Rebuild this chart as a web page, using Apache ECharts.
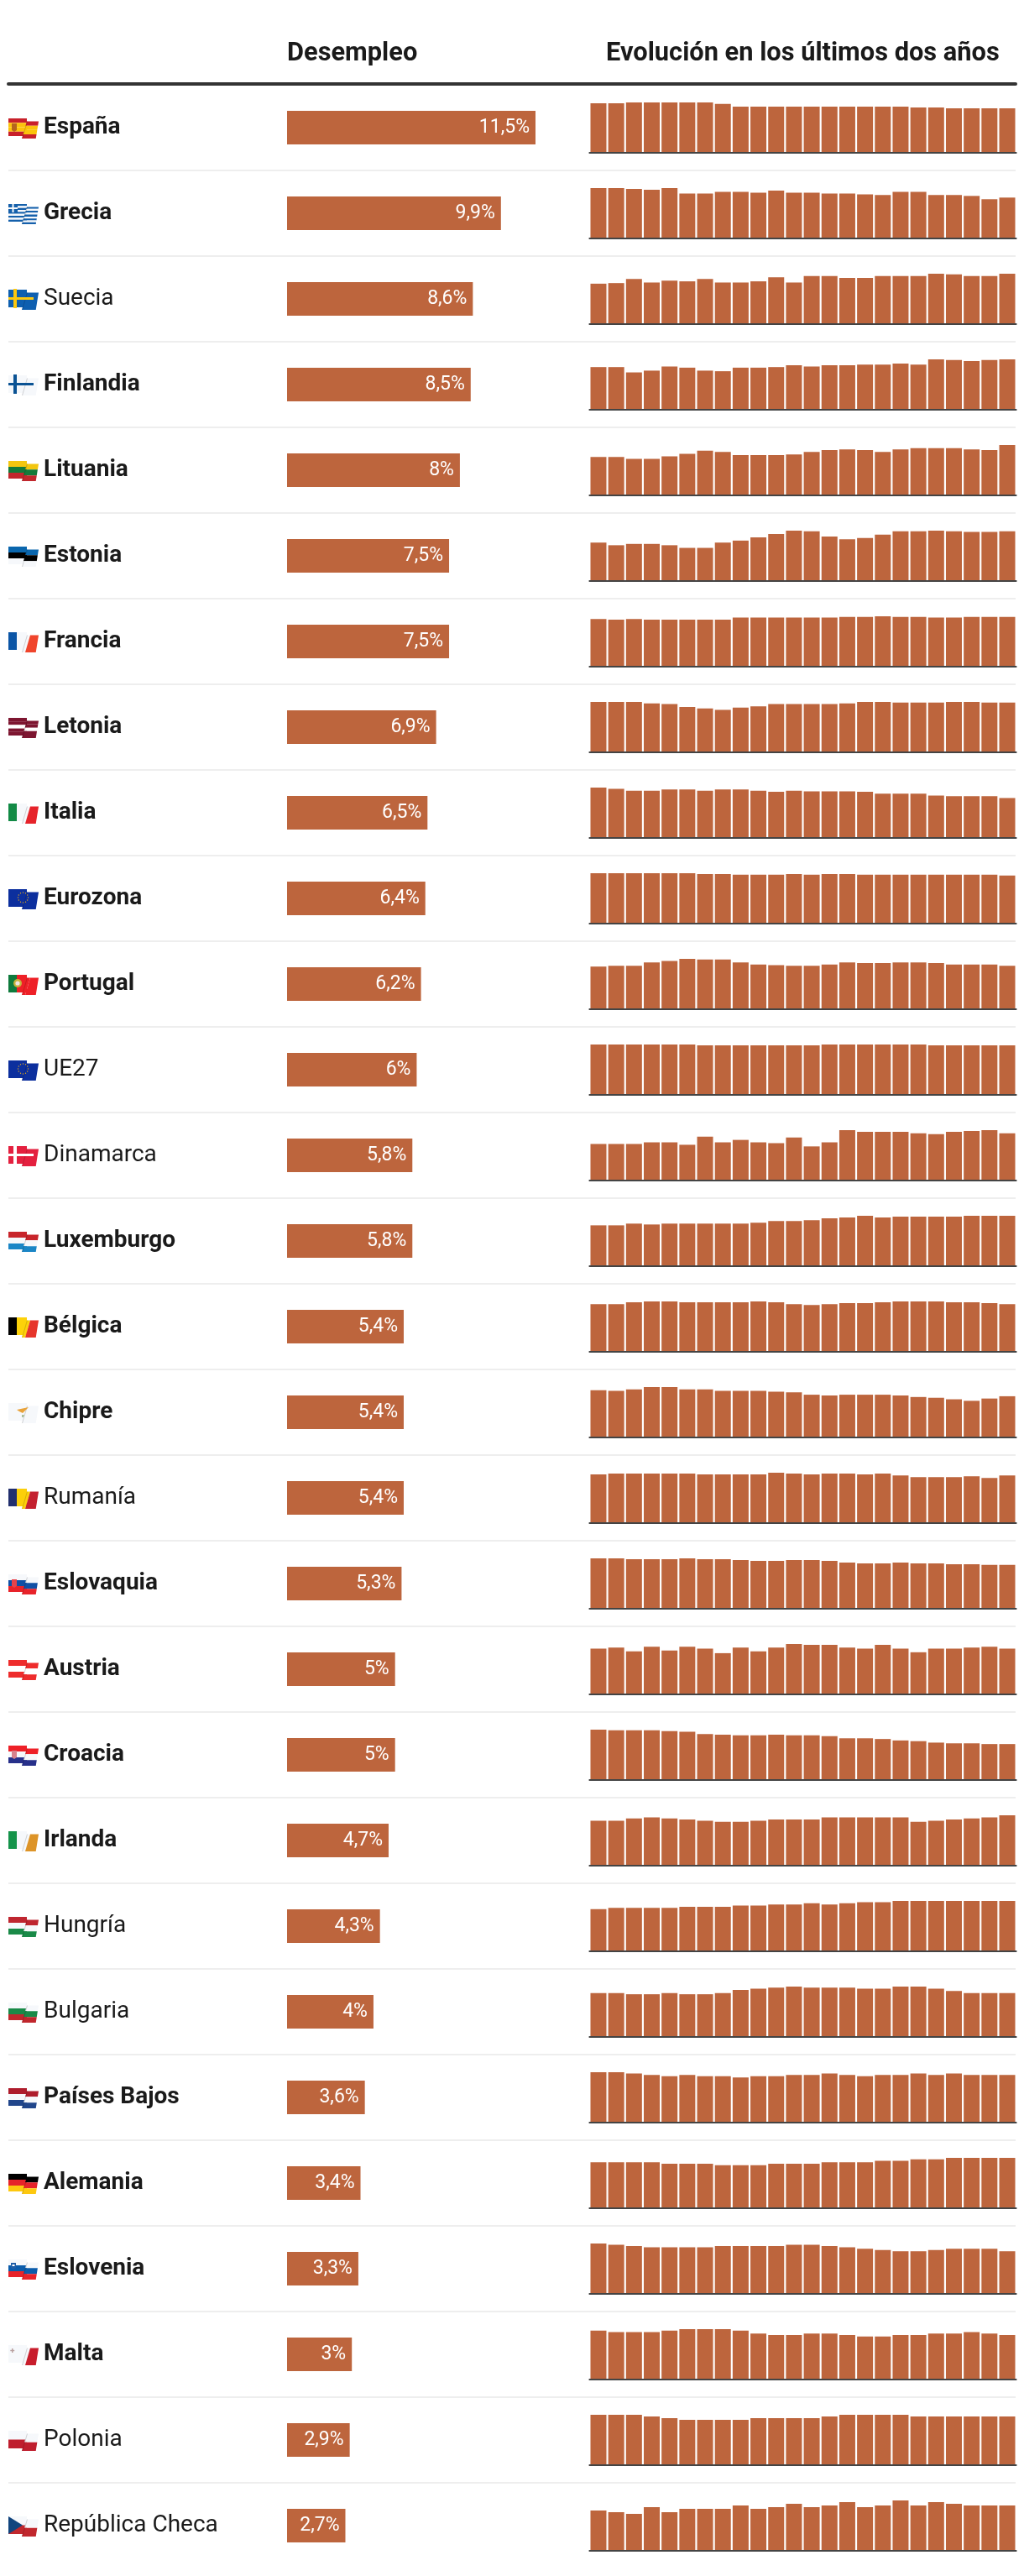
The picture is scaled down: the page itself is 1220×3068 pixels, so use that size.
<!DOCTYPE html>
<html lang="es">
<head>
<meta charset="utf-8">
<title>Desempleo</title>
<script src="https://cdn.jsdelivr.net/npm/echarts@6/dist/echarts.min.js"></script>
<style>
html, body { margin: 0; padding: 0; background: #fff; }
#chart { width: 1220px; height: 3068px; }
</style>
</head>
<body>
<div id="chart"></div>
<script>
var countries = ['España', 'Grecia', 'Suecia', 'Finlandia', 'Lituania', 'Estonia', 'Francia', 'Letonia', 'Italia', 'Eurozona',
	'Portugal', 'UE27', 'Dinamarca', 'Luxemburgo', 'Bélgica', 'Chipre', 'Rumanía', 'Eslovaquia', 'Austria', 'Croacia',
	'Irlanda', 'Hungría', 'Bulgaria', 'Países Bajos', 'Alemania', 'Eslovenia', 'Malta', 'Polonia', 'República Checa'];

var plainNames = ['Suecia', 'UE27', 'Dinamarca', 'Rumanía', 'Hungría', 'Bulgaria', 'Polonia', 'República Checa'];

var unemployment = [11.5, 9.9, 8.6, 8.5, 8, 7.5, 7.5, 6.9, 6.5, 6.4, 6.2, 6, 5.8, 5.8, 5.4, 5.4, 5.4, 5.3, 5, 5, 4.7, 4.3, 4, 3.6, 3.4, 3.3, 3, 2.9, 2.7];

var espana = [12.8, 12.8, 13.0, 13.0, 13.0, 13.0, 13.0, 12.6, 11.9, 11.9, 11.9, 11.9, 11.9, 11.9, 11.9, 11.9, 11.9, 11.9, 11.7, 11.7, 11.5, 11.5, 11.5, 11.5];
var grecia = [12.2, 12.2, 12.0, 11.8, 12.2, 10.9, 10.9, 11.3, 11.3, 11.1, 11.6, 11.1, 11.1, 10.9, 10.9, 10.7, 10.5, 11.3, 11.3, 10.5, 10.5, 10.3, 9.5, 9.9];
var suecia = [6.9, 7.0, 7.7, 7.1, 7.4, 7.3, 7.7, 7.1, 7.1, 7.3, 8.0, 7.1, 8.2, 8.2, 7.9, 7.9, 8.2, 8.2, 8.2, 8.6, 8.5, 8.2, 8.2, 8.6];
var finlandia = [7.2, 7.2, 6.3, 6.6, 7.3, 7.1, 6.6, 6.5, 7.1, 7.1, 7.2, 7.5, 7.3, 7.5, 7.5, 7.6, 7.6, 7.8, 7.6, 8.5, 8.4, 8.2, 8.4, 8.5];
var lituania = [6.1, 6.1, 5.8, 5.8, 6.2, 6.6, 7.1, 6.9, 6.4, 6.4, 6.4, 6.5, 6.9, 7.2, 7.3, 7.2, 6.9, 7.3, 7.5, 7.5, 7.5, 7.3, 7.2, 8.0];
var estonia = [5.8, 5.4, 5.6, 5.6, 5.4, 5.0, 5.0, 5.8, 6.1, 6.6, 7.1, 7.6, 7.5, 6.7, 6.3, 6.5, 7.0, 7.5, 7.5, 7.6, 7.5, 7.4, 7.4, 7.5];
var francia = [7.2, 7.1, 7.2, 7.1, 7.1, 7.1, 7.1, 7.1, 7.4, 7.4, 7.4, 7.4, 7.4, 7.4, 7.5, 7.5, 7.6, 7.5, 7.5, 7.4, 7.4, 7.5, 7.5, 7.5];
var letonia = [7.0, 7.0, 7.0, 6.8, 6.7, 6.3, 6.1, 5.9, 6.2, 6.4, 6.7, 6.7, 6.7, 6.7, 6.8, 7.0, 7.0, 6.9, 6.9, 6.9, 7.0, 7.0, 6.9, 6.9];
var italia = [8.2, 8.0, 7.7, 7.7, 7.9, 7.9, 7.7, 7.9, 7.9, 7.7, 7.5, 7.7, 7.6, 7.6, 7.6, 7.5, 7.2, 7.2, 7.2, 6.9, 6.8, 6.8, 6.8, 6.5];
var eurozona = [6.7, 6.7, 6.7, 6.7, 6.7, 6.7, 6.6, 6.6, 6.5, 6.5, 6.5, 6.6, 6.5, 6.6, 6.6, 6.5, 6.5, 6.5, 6.5, 6.5, 6.5, 6.5, 6.5, 6.4];
var portugal = [6.1, 6.2, 6.2, 6.7, 6.9, 7.2, 7.1, 7.1, 6.7, 6.4, 6.3, 6.2, 6.2, 6.4, 6.7, 6.6, 6.6, 6.7, 6.7, 6.6, 6.4, 6.4, 6.4, 6.2];
var ue27 = [6.1, 6.1, 6.1, 6.1, 6.1, 6.1, 6.0, 6.0, 6.0, 6.0, 6.0, 6.0, 6.0, 6.1, 6.1, 6.1, 6.1, 6.1, 6.1, 6.0, 6.0, 6.0, 6.0, 6.0];
var dinamarca = [4.5, 4.5, 4.5, 4.7, 4.7, 4.4, 5.4, 4.7, 5.0, 4.7, 4.6, 5.3, 4.2, 4.7, 6.2, 6.0, 6.0, 6.0, 5.8, 5.7, 6.0, 6.1, 6.2, 5.8];
var luxemburgo = [4.7, 4.7, 4.9, 4.8, 4.9, 4.9, 4.9, 4.9, 4.9, 5.0, 5.2, 5.2, 5.3, 5.5, 5.6, 5.8, 5.6, 5.7, 5.7, 5.7, 5.7, 5.8, 5.8, 5.8];
var belgica = [5.4, 5.4, 5.6, 5.7, 5.7, 5.6, 5.6, 5.6, 5.6, 5.7, 5.6, 5.4, 5.3, 5.4, 5.5, 5.5, 5.6, 5.7, 5.7, 5.7, 5.6, 5.6, 5.5, 5.4];
var chipre = [6.2, 6.1, 6.3, 6.6, 6.6, 6.3, 6.3, 6.1, 6.1, 6.1, 6.0, 5.9, 5.6, 5.5, 5.6, 5.6, 5.6, 5.5, 5.3, 5.2, 5.0, 4.8, 5.1, 5.4];
var rumania = [5.5, 5.6, 5.6, 5.6, 5.6, 5.6, 5.5, 5.5, 5.5, 5.5, 5.7, 5.6, 5.5, 5.6, 5.6, 5.5, 5.6, 5.4, 5.2, 5.2, 5.2, 5.3, 5.1, 5.4];
var eslovaquia = [6.1, 6.1, 6.0, 6.0, 6.0, 6.1, 6.0, 6.0, 5.9, 5.8, 5.8, 5.9, 5.9, 5.8, 5.6, 5.5, 5.5, 5.6, 5.5, 5.5, 5.4, 5.4, 5.3, 5.3];
var austria = [5.0, 5.1, 4.7, 5.2, 4.8, 5.2, 5.0, 4.5, 5.1, 4.7, 5.1, 5.5, 5.4, 5.4, 5.1, 5.0, 5.4, 5.0, 4.6, 5.0, 5.0, 5.1, 5.2, 5.0];
var croacia = [7.0, 6.9, 6.9, 6.9, 6.8, 6.7, 6.4, 6.3, 6.2, 6.2, 6.3, 6.2, 6.2, 6.1, 5.8, 5.8, 5.7, 5.5, 5.4, 5.2, 5.1, 5.1, 5.0, 5.0];
var irlanda = [4.2, 4.2, 4.4, 4.5, 4.4, 4.3, 4.2, 4.1, 4.1, 4.2, 4.3, 4.3, 4.3, 4.5, 4.5, 4.5, 4.5, 4.5, 4.1, 4.2, 4.3, 4.4, 4.5, 4.7];
var hungria = [3.6, 3.7, 3.7, 3.7, 3.7, 3.8, 3.8, 3.8, 3.9, 3.9, 4.0, 4.0, 4.1, 4.0, 4.1, 4.2, 4.2, 4.3, 4.3, 4.3, 4.3, 4.3, 4.3, 4.3];
var bulgaria = [4.0, 4.0, 3.9, 3.9, 4.0, 3.9, 3.9, 4.0, 4.3, 4.4, 4.5, 4.6, 4.5, 4.5, 4.5, 4.4, 4.4, 4.6, 4.6, 4.4, 4.2, 4.0, 4.0, 4.0];
var paisesBajos = [3.8, 3.8, 3.7, 3.6, 3.5, 3.6, 3.5, 3.5, 3.4, 3.5, 3.5, 3.6, 3.6, 3.7, 3.6, 3.5, 3.6, 3.6, 3.7, 3.6, 3.7, 3.6, 3.6, 3.6];
var alemania = [3.1, 3.1, 3.1, 3.1, 3.0, 3.0, 3.0, 2.9, 2.9, 2.9, 3.0, 3.0, 3.0, 3.1, 3.1, 3.1, 3.2, 3.2, 3.3, 3.3, 3.4, 3.4, 3.4, 3.4];
var eslovenia = [3.9, 3.8, 3.7, 3.6, 3.6, 3.6, 3.6, 3.7, 3.7, 3.7, 3.7, 3.8, 3.8, 3.7, 3.6, 3.5, 3.4, 3.3, 3.3, 3.4, 3.5, 3.5, 3.5, 3.3];
var malta = [3.3, 3.2, 3.2, 3.2, 3.3, 3.4, 3.4, 3.4, 3.3, 3.1, 3.0, 3.0, 3.1, 3.1, 3.0, 2.9, 2.9, 3.0, 3.0, 3.1, 3.1, 3.2, 3.1, 3.0];
var polonia = [3.0, 3.0, 3.0, 2.9, 2.8, 2.7, 2.7, 2.7, 2.7, 2.8, 2.8, 2.8, 2.8, 2.9, 3.0, 3.0, 3.0, 3.0, 2.9, 2.9, 2.9, 2.9, 2.9, 2.9];
var chequia = [2.4, 2.3, 2.2, 2.6, 2.3, 2.5, 2.5, 2.5, 2.7, 2.5, 2.6, 2.8, 2.6, 2.7, 2.9, 2.6, 2.7, 3.0, 2.7, 2.9, 2.8, 2.7, 2.7, 2.7];

var evolution = [espana, grecia, suecia, finlandia, lituania, estonia, francia, letonia, italia, eurozona,
	portugal, ue27, dinamarca, luxemburgo, belgica, chipre, rumania, eslovaquia, austria, croacia,
	irlanda, hungria, bulgaria, paisesBajos, alemania, eslovenia, malta, polonia, chequia];

var months = ['1', '2', '3', '4', '5', '6', '7', '8', '9', '10', '11', '12', '13', '14', '15', '16', '17', '18', '19', '20', '21', '22', '23', '24'];

var barColor = '#bd653d';
var textColor = '#1a1a1a';
var fontName = 'Roboto';
var white = '#f6f8fb';

// flag stripes, horizontal (h) or vertical (v)
var flagStyles = {
	'España': { dir: 'h', colors: ['#c8202a', '#fcc30b', '#fcc30b', '#c8202a'], extra: 'shield' },
	'Grecia': { dir: 'h', colors: ['#1560ab', white, '#1560ab', white, '#1560ab', white, '#1560ab', white, '#1560ab'], extra: 'greek' },
	'Suecia': { dir: 'h', colors: ['#0e5fb0'], extra: 'cross', cross: '#fdc80f' },
	'Finlandia': { dir: 'h', colors: [white], extra: 'cross', cross: '#0b5394' },
	'Lituania': { dir: 'h', colors: ['#f3c60f', '#137a3a', '#c1272d'] },
	'Estonia': { dir: 'h', colors: ['#0a66ad', '#000000', white] },
	'Francia': { dir: 'v', colors: ['#0b55a6', white, '#f0452c'] },
	'Letonia': { dir: 'h', colors: ['#7d1530', '#7d1530', '#ffffff', '#7d1530', '#7d1530'] },
	'Italia': { dir: 'v', colors: ['#128a45', white, '#e6232a'] },
	'Eurozona': { dir: 'h', colors: ['#0c2f9e'], extra: 'stars' },
	'Portugal': { dir: 'v', colors: ['#0e7a3c', '#ee2027', '#ee2027'], extra: 'emblem' },
	'UE27': { dir: 'h', colors: ['#0c2f9e'], extra: 'stars' },
	'Dinamarca': { dir: 'h', colors: ['#e4203f'], extra: 'cross', cross: '#ffffff' },
	'Luxemburgo': { dir: 'h', colors: ['#c8252b', white, '#1b86c6'] },
	'Bélgica': { dir: 'v', colors: ['#000000', '#fdd20a', '#e6352b'] },
	'Chipre': { dir: 'h', colors: [white], extra: 'island' },
	'Rumanía': { dir: 'v', colors: ['#222f6e', '#fccf0a', '#c4202f'] },
	'Eslovaquia': { dir: 'h', colors: [white, '#1150a5', '#e8232a'], extra: 'shield' },
	'Austria': { dir: 'h', colors: ['#ee2c2c', '#ffffff', '#ee2c2c'] },
	'Croacia': { dir: 'h', colors: ['#ee2027', white, '#27308a'], extra: 'shield' },
	'Irlanda': { dir: 'v', colors: ['#14934a', white, '#dd9428'] },
	'Hungría': { dir: 'h', colors: ['#bf2630', white, '#1a8a48'] },
	'Bulgaria': { dir: 'h', colors: [white, '#1a8a48', '#c1272d'] },
	'Países Bajos': { dir: 'h', colors: ['#ae1c2c', white, '#21468b'] },
	'Alemania': { dir: 'h', colors: ['#000000', '#e6232a', '#fdc80f'] },
	'Eslovenia': { dir: 'h', colors: [white, '#0b5cab', '#e8232a'], extra: 'badge' },
	'Malta': { dir: 'v', colors: [white, white, '#c81d2c'], extra: 'george' },
	'Polonia': { dir: 'h', colors: [white, '#bf1e2e'] },
	'República Checa': { dir: 'h', colors: [white, '#c1272d'], extra: 'triangle' }
};

var rowTop = 101;
var rowHeight = 102;

function poly(points, color, z) {
	return {
		type : 'polygon',
		silent : true,
		z : z || 10,
		shape : { points : points },
		style : { fill : color }
	};
}

function addFlag(list, name, cy) {
	var flag = flagStyles[name];
	var n = flag.colors.length;
	var i, k, a, b;
	// left panel x 10-32, y -11..10; right panel is a parallelogram over it
	var top1 = cy - 11, bot1 = cy + 10, top2 = cy - 7.5, bot2 = cy + 13;
	if (flag.dir == 'h') {
		for (i = 0; i < n; i++) {
			a = top1 + (bot1 - top1) * i / n;
			b = top1 + (bot1 - top1) * (i + 1) / n;
			list.push(poly([[10, a], [32, a], [32, b], [10, b]], flag.colors[i]));
		}
		for (i = 0; i < n; i++) {
			a = i / n;
			b = (i + 1) / n;
			list.push(poly([[32 - 6 * a, top2 + (bot2 - top2) * a], [46 - 3.3 * a, top2 + (bot2 - top2) * a],
				[46 - 3.3 * b, top2 + (bot2 - top2) * b], [32 - 6 * b, top2 + (bot2 - top2) * b]], flag.colors[i], 11));
		}
	} else {
		// vertical stripes change colour inside each panel
		list.push(poly([[10, top1], [20, top1], [20, bot1], [10, bot1]], flag.colors[0]));
		list.push(poly([[20, top1], [32, top1], [32, bot1], [20, bot1]], flag.colors[1]));
		list.push(poly([[32, top2], [36, top2], [30, bot2], [26, bot2]], flag.colors[1], 11));
		list.push(poly([[36, top2], [46, top2], [42.7, bot2], [30, bot2]], flag.colors[2], 11));
	}
	// fold shadow
	list.push(poly([[32, top2], [33, top2], [27, bot2], [26, bot2]], 'rgba(0,0,0,0.16)', 12));
	k = flag.extra;
	if (k == 'cross') {
		list.push(poly([[16, top1 - 1], [20, top1 - 1], [20, bot1 + 1], [16, bot1 + 1]], flag.cross, 13));
		list.push(poly([[10, cy - 2], [40, cy - 2], [40, cy + 1], [10, cy + 1]], flag.cross, 13));
	} else if (k == 'stars') {
		for (i = 0; i < 12; i++) {
			list.push({
				type : 'circle', silent : true, z : 13,
				shape : { cx : 27.5 + 6 * Math.cos(i * Math.PI / 6), cy : cy - 1 + 6 * Math.sin(i * Math.PI / 6), r : 0.7 },
				style : { fill : '#e3a81c' }
			});
		}
	} else if (k == 'shield') {
		list.push(poly([[14, cy - 5], [20, cy - 5], [20, cy + 3], [17, cy + 5], [14, cy + 3]], name == 'España' ? '#b5651d' : name == 'Croacia' ? '#d7828c' : '#e8434a', 13));
	} else if (k == 'badge') {
		list.push(poly([[13, cy - 7], [19, cy - 7], [19, cy - 1], [16, cy + 1], [13, cy - 1]], '#1f5ea8', 13));
		list.push(poly([[14.5, cy - 5], [17.5, cy - 5], [17.5, cy - 3], [14.5, cy - 3]], '#ffffff', 14));
	} else if (k == 'emblem') {
		list.push({ type : 'circle', silent : true, z : 13, shape : { cx : 21, cy : cy - 1, r : 5 }, style : { fill : '#c9b23a' } });
		list.push({ type : 'circle', silent : true, z : 14, shape : { cx : 21, cy : cy - 1, r : 2.6 }, style : { fill : '#f0e6e0' } });
	} else if (k == 'greek') {
		list.push(poly([[10, top1], [21, top1], [21, cy - 1], [10, cy - 1]], '#1560ab', 13));
		list.push(poly([[14.5, top1], [16.5, top1], [16.5, cy - 1], [14.5, cy - 1]], white, 14));
		list.push(poly([[10, cy - 7], [21, cy - 7], [21, cy - 5], [10, cy - 5]], white, 14));
	} else if (k == 'george') {
		list.push(poly([[14, cy - 7], [15.5, cy - 7], [15.5, cy - 2], [14, cy - 2]], '#b8a0a0', 13));
		list.push(poly([[12.3, cy - 5.2], [17.2, cy - 5.2], [17.2, cy - 3.8], [12.3, cy - 3.8]], '#b8a0a0', 13));
	} else if (k == 'triangle') {
		list.push(poly([[10, top1], [27, cy - 0.5], [10, bot1]], '#11457e', 13));
	} else if (k == 'island') {
		list.push(poly([[20, cy - 3], [34, cy - 6], [31, cy - 3], [27, cy + 1], [23, cy - 1]], '#e9a33a', 13));
		list.push(poly([[26, cy + 3], [29, cy + 3], [28, cy + 6], [26, cy + 6]], '#a9bf9c', 13));
	}
}

function valueLabel(v) {
	return String(v).replace('.', ',') + '%';
}

var chart = echarts.init(document.getElementById('chart'), null, { renderer : 'canvas' });

var grids = [], xAxes = [], yAxes = [], series = [], flags = [];

// background grid: country names, row rules and header rule
grids.push({ left : 10, top : rowTop, width : 1200, height : rowHeight * countries.length });
xAxes.push({
	gridIndex : 0, type : 'value', position : 'top', offset : 1, min : 0, max : 1,
	axisLine : { show : true, lineStyle : { color : '#333333', width : 4 } },
	axisTick : { show : false }, axisLabel : { show : false }, splitLine : { show : false }
});
yAxes.push({
	gridIndex : 0, type : 'category', inverse : true, data : countries,
	axisLine : { show : false }, axisTick : { show : false },
	splitLine : { show : true, showMinLine : false, showMaxLine : false, lineStyle : { color : '#eeeeee', width : 2 } },
	axisLabel : {
		inside : true, margin : 42, interval : 0,
		formatter : function(value) {
			return (plainNames.indexOf(value) >= 0 ? '{n|' : '{b|') + value + '}';
		},
		rich : {
			b : { fontFamily : fontName, fontSize : 28, fontWeight : 700, color : textColor },
			n : { fontFamily : fontName, fontSize : 28, fontWeight : 400, color : textColor }
		}
	}
});

// unemployment bars
grids.push({ left : 342, top : rowTop, width : 296, height : rowHeight * countries.length });
xAxes.push({ gridIndex : 1, type : 'value', min : 0, max : 11.5, show : false });
yAxes.push({ gridIndex : 1, type : 'category', inverse : true, data : countries, show : false });
series.push({
	type : 'bar', xAxisIndex : 1, yAxisIndex : 1, data : unemployment, barWidth : 40,
	itemStyle : { color : barColor }, silent : true,
	label : {
		show : true, position : 'insideRight', distance : 7,
		fontFamily : fontName, fontSize : 23, color : '#ffffff',
		formatter : function(p) { return valueLabel(p.value); }
	}
});

// one small chart per country, each scaled to its own maximum
for (var i = 0; i < countries.length; i++) {
	var idx = grids.length;
	grids.push({ left : 702.4, width : 508.2, top : 122 + rowHeight * i, height : 60 });
	xAxes.push({
		gridIndex : idx, type : 'category', data : months, z : 5,
		axisLine : { show : true, lineStyle : { color : '#444444', width : 2 } },
		axisTick : { show : false }, axisLabel : { show : false }
	});
	yAxes.push({ gridIndex : idx, type : 'value', min : 0, max : Math.max.apply(null, evolution[i]), show : false });
	series.push({
		type : 'bar', xAxisIndex : idx, yAxisIndex : idx, data : evolution[i],
		barWidth : 19, itemStyle : { color : barColor }, silent : true
	});
	addFlag(flags, countries[i], rowTop + rowHeight * i + rowHeight / 2);
}

var option = {
	animation : false,
	backgroundColor : '#ffffff',
	title : [
		{ text : 'Desempleo', left : 342, top : 49, padding : 0,
			textStyle : { fontFamily : fontName, fontSize : 30.8, fontWeight : 700, color : textColor } },
		{ text : 'Evolución en los últimos dos años', left : 722, top : 49, padding : 0,
			textStyle : { fontFamily : fontName, fontSize : 30.8, fontWeight : 700, color : textColor } }
	],
	grid : grids,
	xAxis : xAxes,
	yAxis : yAxes,
	series : series,
	graphic : flags
};
chart.setOption(option);
</script>
</body>
</html>
